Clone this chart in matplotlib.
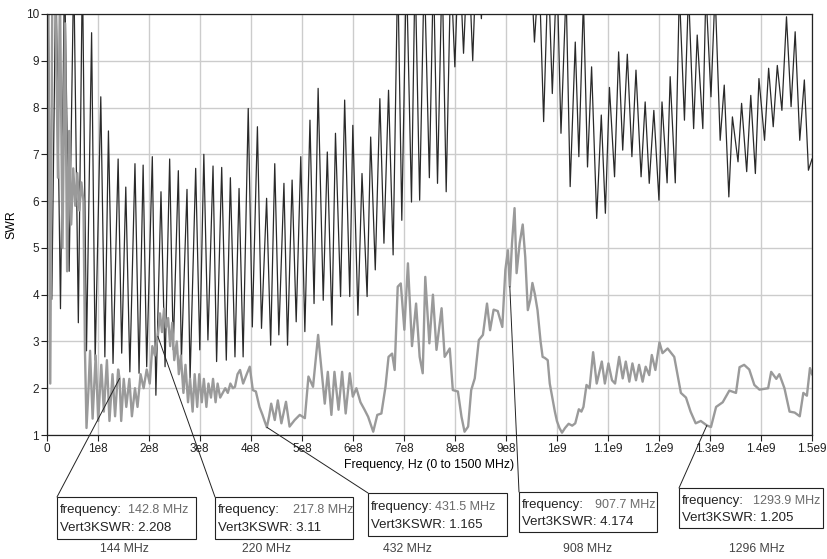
import matplotlib
matplotlib.use("Agg")
import matplotlib.pyplot as plt
from matplotlib.patches import Rectangle, ConnectionPatch

plt.rcParams["font.family"] = ["Liberation Sans", "DejaVu Sans"]

# dense trace (peaks / troughs), frequency in MHz
black_mhz = [0, 2, 10, 18, 27, 35, 44, 53, 62, 70, 78, 88, 95, 106, 114, 121, 130, 140,
             147, 155, 163, 173, 181, 189, 196, 207, 214, 224, 232, 241, 248, 258, 264,
             275, 281, 292, 300, 308, 316, 326, 333, 343, 352, 360, 369, 377, 385, 395,
             403, 413, 421, 431, 439, 447, 455, 465, 472, 481, 489, 498, 506, 516, 524,
             532, 542, 550, 559, 566, 576, 584, 594, 600, 610, 618, 628, 635, 644, 653,
             661, 670, 679, 688, 696, 705, 715, 722, 731, 740, 750, 758, 766, 775, 783,
             792, 800, 808, 817, 826, 835, 843, 852, 860, 869, 878, 886, 895, 904, 912,
             921, 930, 939, 947, 956, 965, 974, 983, 991, 1000, 1008, 1018, 1026, 1036,
             1043, 1052, 1060, 1068, 1078, 1087, 1095, 1103, 1113, 1121, 1129, 1138,
             1147, 1155, 1165, 1173, 1181, 1190, 1200, 1206, 1216, 1222, 1232, 1240,
             1250, 1258, 1268, 1275, 1286, 1292, 1302, 1310, 1320, 1328, 1337, 1344,
             1355, 1362, 1372, 1380, 1389, 1396, 1407, 1415, 1424, 1432, 1441, 1450,
             1459, 1467, 1476, 1485, 1493, 1500]
black_swr = [6.5, 11, 3.9, 11, 3.7, 11, 4.5, 11, 3.4, 11, 2.8, 9.6, 2.6, 8.23, 2.67, 7.5,
             2.53, 6.9, 2.75, 6.3, 2.35, 6.8, 2.32, 6.77, 2.46, 6.95, 1.85, 6.2, 2.46, 6.9,
             2.82, 6.65, 2.6, 6.25, 2.21, 6.7, 2.82, 7.0, 3.03, 6.75, 2.57, 6.72, 2.6, 6.5,
             2.67, 6.27, 2.67, 7.98, 3.31, 7.59, 3.28, 6.06, 2.92, 6.8, 3.14, 6.38, 2.92,
             6.45, 3.42, 6.95, 3.21, 7.73, 3.81, 8.41, 3.88, 7.05, 3.35, 7.45, 3.96, 8.16,
             3.96, 7.62, 3.56, 6.59, 3.96, 7.37, 4.53, 8.19, 5.1, 8.37, 4.85, 11, 5.59, 11,
             5.98, 11, 6.02, 11, 6.5, 11, 6.38, 11, 6.2, 11, 8.87, 11.5, 9.16, 11.5, 9.0,
             11.5, 9.9, 12, 10.6, 12, 10.8, 12, 11, 12, 10.9, 12, 10.5, 11.5, 9.4, 11, 7.7,
             11, 8.3, 11, 7.45, 10.5, 6.31, 9.4, 6.95, 10.3, 6.73, 8.87, 5.63, 7.84, 5.74,
             8.43, 6.52, 9.19, 7.09, 9.14, 6.95, 8.8, 6.52, 8.12, 6.38, 7.94, 6.02, 8.12,
             6.39, 8.66, 6.39, 10.5, 7.73, 10.5, 7.55, 9.55, 7.55, 10.5, 8.23, 10.5, 7.3,
             8.48, 6.09, 7.8, 6.84, 8.09, 6.63, 8.26, 6.59, 8.62, 7.3, 8.84, 7.59, 8.9,
             7.94, 9.94, 8.02, 9.62, 7.3, 8.59, 6.66, 6.9]

# Vert3KSWR trace
vert_mhz = [0, 3, 7, 11, 17, 22, 26, 31, 36, 40, 44, 48, 52, 56, 60, 64, 68, 72, 75, 78,
            82, 85, 90, 96, 101, 107, 112, 118, 123, 129, 134, 140, 142.8, 146, 151, 156,
            162, 167, 173, 178, 184, 190, 196, 202, 207, 212, 217.8, 222, 226, 230, 234,
            238, 242, 246, 250, 255, 259, 263, 268, 272, 277, 281, 286, 290, 295, 299,
            304, 308, 313, 317, 322, 326, 331, 335, 340, 345, 350, 355, 360, 365, 369,
            374, 379, 385, 392, 398, 404, 410, 417, 423, 427, 431.5, 436, 440, 447, 453,
            460, 469, 476, 486, 496, 506, 513, 522, 532, 540, 545, 551, 558, 564, 572,
            579, 586, 594, 600, 607, 615, 623, 630, 640, 648, 656, 664, 670, 677, 682,
            688, 694, 701, 708, 716, 724, 731, 737, 742, 750, 757, 764, 774, 780, 790,
            796, 806, 813, 819, 826, 832, 839, 847, 855, 863, 869, 876, 884, 893, 899,
            904, 907.7, 912, 917, 921, 927, 933, 938, 943, 948, 952, 957, 962, 968, 972,
            976, 982, 986, 991, 996, 1000, 1005, 1010, 1016, 1023, 1030, 1036, 1043,
            1048, 1052, 1058, 1064, 1071, 1078, 1088, 1094, 1101, 1108, 1114, 1122, 1129,
            1135, 1142, 1148, 1155, 1161, 1168, 1174, 1181, 1186, 1193, 1201, 1207, 1217,
            1230, 1243, 1253, 1262, 1272, 1282, 1293.9, 1302, 1312, 1325, 1338, 1351,
            1358, 1367, 1377, 1387, 1397, 1414, 1420, 1430, 1436, 1446, 1456, 1466, 1476,
            1483, 1490, 1496, 1500]
vert_swr = [7.0, 10.5, 2.1, 10.5, 10.5, 6.5, 10.5, 5.0, 9.8, 4.5, 7.5, 5.5, 6.7, 5.9, 6.6,
            5.8, 6.4, 6.0, 2.8, 1.15, 2.0, 2.8, 1.35, 2.7, 1.3, 2.5, 1.5, 2.6, 1.3, 2.3, 1.4,
            2.4, 2.208, 1.3, 2.2, 1.6, 2.2, 1.4, 2.0, 1.6, 2.3, 2.0, 2.4, 2.1, 2.9, 2.7,
            3.11, 3.6, 3.2, 3.7, 3.3, 3.5, 2.9, 3.4, 2.6, 3.0, 2.3, 2.7, 1.9, 2.5, 1.7, 2.2,
            1.5, 2.3, 1.6, 2.3, 1.7, 2.2, 1.6, 2.1, 1.8, 2.2, 1.7, 2.1, 1.8, 1.9, 2.0, 1.9,
            2.1, 2.0, 2.03, 2.3, 2.39, 2.1, 2.3, 2.46, 1.96, 1.93, 1.6, 1.43, 1.3, 1.165,
            1.4, 1.67, 1.32, 1.74, 1.25, 1.71, 1.18, 1.32, 1.43, 1.36, 2.25, 2.03, 3.14,
            2.25, 1.67, 2.35, 1.43, 2.35, 1.54, 2.35, 1.46, 2.32, 1.82, 2.0, 1.7, 1.54,
            1.39, 1.07, 1.43, 1.46, 2.03, 2.67, 2.74, 2.39, 4.17, 4.24, 3.25, 4.67, 2.9,
            3.81, 2.67, 2.32, 4.38, 2.96, 4.0, 2.82, 3.71, 2.67, 2.85, 1.96, 1.93, 1.39,
            1.07, 1.18, 1.96, 2.21, 3.03, 3.14, 3.81, 3.24, 3.68, 3.65, 3.31, 4.53, 4.95,
            4.174, 5.1, 5.85, 4.46, 5.1, 5.5, 4.8, 3.67, 3.9, 4.25, 4.0, 3.67, 3.0, 2.67,
            2.65, 2.6, 2.1, 1.8, 1.5, 1.3, 1.15, 1.05, 1.15, 1.24, 1.2, 1.25, 1.55, 1.5,
            1.6, 2.07, 2.0, 2.77, 2.1, 2.57, 2.1, 2.53, 2.17, 2.1, 2.67, 2.21, 2.57, 2.14,
            2.53, 2.17, 2.5, 2.14, 2.46, 2.28, 2.71, 2.39, 2.98, 2.75, 2.85, 2.67, 1.9,
            1.8, 1.5, 1.25, 1.3, 1.205, 1.17, 1.6, 1.7, 1.95, 1.9, 2.45, 2.5, 2.4, 2.07,
            1.97, 2.0, 2.35, 2.2, 2.3, 2.0, 1.5, 1.48, 1.4, 1.9, 1.84, 2.43, 2.3]

# markers
marker_mhz = [142.8, 217.8, 431.5, 907.7, 1293.9]
marker_swr = [2.208, 3.11, 1.165, 4.174, 1.205]
marker_freq_text = ["142.8 MHz", "217.8 MHz", "431.5 MHz", "907.7 MHz", "1293.9 MHz"]
marker_swr_text = ["2.208", "3.11", "1.165", "4.174", "1.205"]
band_labels = ["144 MHz", "220 MHz", "432 MHz", "908 MHz", "1296 MHz"]

x_ticks = [i * 1e8 for i in range(16)]
x_tick_labels = ["0", "1e8", "2e8", "3e8", "4e8", "5e8", "6e8", "7e8", "8e8", "9e8",
                 "1e9", "1.1e9", "1.2e9", "1.3e9", "1.4e9", "1.5e9"]
y_ticks = list(range(1, 11))

W, H = 827, 559


def fig_xy(px, py):
    return px / W, 1 - py / H


fig = plt.figure(figsize=(W / 100, H / 100), dpi=100)
ax = fig.add_axes([46.7 / W, 1 - 435 / H, (812 - 46.7) / W, (435 - 14) / H])

ax.plot([m * 1e6 for m in black_mhz], black_swr, color="#2a2a2a", lw=0.9)
ax.plot([m * 1e6 for m in vert_mhz], vert_swr, color="#9a9a9a", lw=1.7)

ax.set_xlim(0, 1.5e9)
ax.set_ylim(1, 10)
ax.set_xticks(x_ticks)
ax.set_xticklabels(x_tick_labels)
ax.set_yticks(y_ticks)
ax.grid(True, color="#cccccc", lw=1.0)
ax.set_axisbelow(True)
ax.tick_params(direction="out", length=4, width=0.8, labelsize=8.5, pad=1.5,
               colors="#222222")
for sp in ax.spines.values():
    sp.set_color("#222222")
    sp.set_linewidth(0.9)

ax.set_xlabel("Frequency, Hz (0 to 1500 MHz)", fontsize=8.8, labelpad=3)
ax.set_ylabel("SWR", fontsize=8.8, labelpad=6)

# annotation boxes: left, top, right, bottom (pixels) and value text offset
boxes = [(57, 497, 196, 539, 71), (215, 497, 353, 539, 78), (368, 493, 507, 536, 67),
         (519, 492, 657, 532, 76), (679, 488, 823, 528, 74)]
band_x = [124, 267, 407, 588, 757]

for i, (l, t, r, b, off) in enumerate(boxes):
    x0, y0 = fig_xy(l, b)
    x1, y1 = fig_xy(r, t)
    fig.add_artist(Rectangle((x0, y0), x1 - x0, y1 - y0, transform=fig.transFigure,
                             facecolor="white", edgecolor="#222222", lw=0.8))
    fig.add_artist(ConnectionPatch(xyA=(marker_mhz[i] * 1e6, marker_swr[i]),
                                   coordsA=ax.transData, xyB=fig_xy(l, t),
                                   coordsB=fig.transFigure, color="#222222", lw=0.7))
    row1 = t + (b - t) * 0.32
    row2 = t + (b - t) * 0.74
    fig.text(*fig_xy(l + 3, row1), "frequency:", fontsize=9.5, color="#222222",
             va="center")
    fig.text(*fig_xy(l + off, row1), marker_freq_text[i], fontsize=9, color="#6a6a6a",
             va="center")
    fig.text(*fig_xy(l + 3, row2), "Vert3KSWR: " + marker_swr_text[i], fontsize=9.5,
             color="#222222", va="center")
    fig.text(*fig_xy(band_x[i], 549), band_labels[i], fontsize=8.8, color="#444444",
             ha="center", va="center")

fig.savefig("out.png", dpi=100)
